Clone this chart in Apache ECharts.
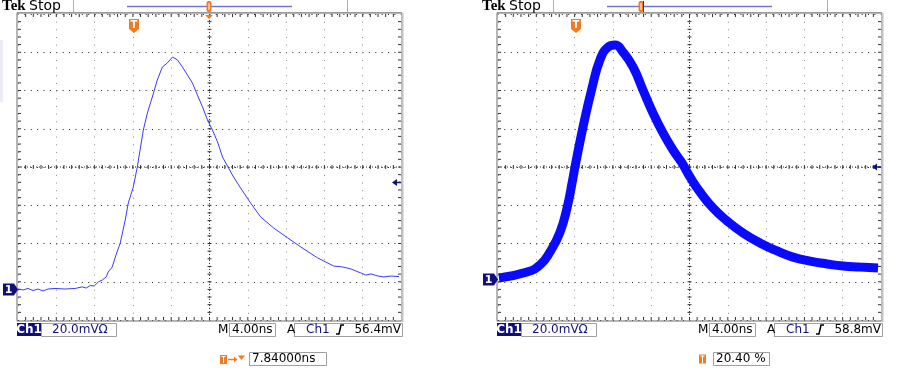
<!DOCTYPE html>
<html><head><meta charset="utf-8">
<script src="https://cdn.jsdelivr.net/npm/echarts@6/dist/echarts.min.js"></script>
<style>html,body{margin:0;padding:0;background:#fff}#c{width:923px;height:373px}</style>
</head><body><div id="c"></div>
<script>
// ---- data (time in ns from screen centre, voltage in mV from screen centre) ----
const timeLeft = [-20.00,-19.48,-18.95,-18.43,-17.91,-17.38,-16.86,-16.13,-15.08,-14.03,-13.30,-12.88,-12.46,-12.04,-11.62,-11.20,-10.79,-10.58,-10.16,-9.84,-9.32,-8.80,-8.48,-7.96,-7.54,-6.91,-6.49,-5.97,-5.45,-4.92,-4.40,-3.87,-3.35,-2.83,-2.30,-1.78,-1.26,-0.73,-0.21,0.31,0.84,1.36,1.99,2.51,3.25,4.29,5.34,6.70,8.17,9.53,11.31,12.15,12.98,13.93,14.76,15.29,15.81,16.33,16.86,17.59,18.22,18.95,19.79];
const voltLeft = [-63.8,-64.3,-63.5,-64.6,-63.8,-64.8,-63.8,-63.5,-63.8,-63.5,-62.7,-63.3,-62.0,-62.2,-60.1,-59.1,-57.5,-54.9,-52.3,-47.1,-39.7,-27.7,-18.8,-10.5,0.0,19.3,28.2,36.6,45.5,52.3,54.4,57.5,56.0,52.3,48.1,43.9,37.6,31.4,24.6,19.3,13.1,5.2,-0.5,-5.2,-11.0,-18.8,-26.1,-31.9,-37.1,-41.8,-47.6,-49.7,-51.8,-52.3,-53.3,-54.4,-55.4,-56.5,-55.9,-57.0,-57.5,-57.0,-57.3];
const timeRight = [-19.90,-16.97,-15.61,-14.57,-13.52,-12.79,-12.17,-11.96,-11.12,-10.18,-9.35,-8.51,-7.78,-6.95,-5.90,-4.86,-3.81,-2.77,-1.72,-0.78,0.05,1.10,2.45,3.92,5.59,7.36,9.14,10.81,12.59,14.36,16.03,17.81,19.69];
const voltRight = [-58.0,-54.9,-51.2,-44.4,-34.0,-21.4,-5.8,0.0,20.9,41.3,56.0,62.7,63.8,60.1,52.3,40.3,28.2,17.8,8.9,2.1,-5.2,-13.1,-21.4,-28.2,-34.5,-39.7,-43.9,-47.1,-49.2,-50.7,-51.8,-52.3,-52.8];
const timeTicks = [-20,-16,-12,-8,-4,0,4,8,12,16,20];
const voltTicks = [-80,-60,-40,-20,0,20,40,60,80];
const leftStatus = {scale:'20.0mV\u03a9', time:'4.00ns', trig:'56.4mV', readout:'7.84000ns'};
const rightStatus = {scale:'20.0mV\u03a9', time:'4.00ns', trig:'58.8mV', readout:'20.40 %'};

// ---- layout ----
const PL = [18, 498], PT = 14, PW = 383, PH = 306;
const NAVY = '#10107a', ORANGE = '#f47a20';

const chart = echarts.init(document.getElementById('c'), null, {renderer:'canvas'});

function axesFor(i){
  return {
    x: {type:'value', gridIndex:i, min:timeTicks[0], max:timeTicks[timeTicks.length-1], interval:4,
        axisLine:{show:false}, axisTick:{show:false}, axisLabel:{show:false},
        splitLine:{show:true, lineStyle:{color:'#8a8a8a', width:1, type:[1,6.66]}}},
    y: {type:'value', gridIndex:i, min:voltTicks[0], max:voltTicks[voltTicks.length-1], interval:20,
        axisLine:{show:false}, axisTick:{show:false}, axisLabel:{show:false},
        splitLine:{show:true, lineStyle:{color:'#222', width:1, type:[1,5.38]}}}
  };
}
const a0 = axesFor(0), a1 = axesFor(1);

const g = [];
function line(x1,y1,x2,y2,stroke,w,extra){ g.push(Object.assign({type:'line', silent:true, shape:{x1,y1,x2,y2}, style:{stroke, lineWidth:w||1}}, extra||{})); }
function text(t,x,y,font,fill,align,z){ g.push({type:'text', silent:true, z:z||10, style:{text:t, x, y, font, fill, textAlign:align||'left', textVerticalAlign:'middle'}}); }
function rect(x,y,w,h,fill,stroke,z){ g.push({type:'rect', silent:true, z:z||5, shape:{x,y,width:w,height:h}, style:{fill:fill||'none', stroke:stroke||null, lineWidth:1}}); }

function scope(k, st, trigX, trigInnerX, levelY, gndY, readoutIcon){
  const L = PL[k], R = L+PW, B = PT+PH, cx = L+PW/2, cy = PT+PH/2;
  const ox = L-18;
  // header
  text('Tek', ox+2, 6, 'bold 15px "Liberation Serif", serif', '#000');
  text('Stop', ox+29, 6, '14px "DejaVu Sans", sans-serif', '#000');
  line(ox+73.5,0,ox+73.5,12,'#b0b0b0',1);
  line(ox+347.5,0,ox+347.5,12,'#b0b0b0',1);
  line(ox+127,6.5,ox+292,6.5,'#7474d4',1.5);
  // trigger position marker on the record bar
  g.push({type:'rect', silent:true, z:12, shape:{x:trigX-2.5,y:1,width:5,height:11,r:2}, style:{fill:ORANGE}});
  line(trigX,3,trigX,10,'#fff',1,{z:13});
  if(k===1) line(trigX+2.5,1,trigX+2.5,12,'#333',1,{z:13});
  // frame
  rect(L-1,PT-1,PW+2,PH+2,null,'#6a6a6a',6);
  line(R+1.5,PT-1,R+1.5,B+2,'#c4c4c4',2,{z:6});
  line(L-1,PT-1.5,R+1,PT-1.5,'#9a9a9a',1,{z:6});
  // minor ticks on frame and centre lines
  const dx = PW/50, dy = PH/40;
  for(let i=1;i<50;i++){
    const x = L+i*dx;
    line(x,PT,x,PT+3,'#333',1,{z:6});
    line(x,B-3,x,B,'#333',1,{z:6});
    line(x,cy-2,x,cy+2,'#333',1,{z:6});
  }
  for(let j=1;j<40;j++){
    const y = PT+j*dy;
    line(L,y,L+3,y,'#333',1,{z:6});
    line(R-3,y,R,y,'#333',1,{z:6});
    line(cx-2,y,cx+2,y,'#333',1,{z:6});
  }
  line(L,cy,R,cy,'#333',1,{z:6, style:{stroke:'#333',lineWidth:1,lineDash:[1,2]}});
  line(cx,PT,cx,B,'#333',1,{z:6, style:{stroke:'#333',lineWidth:1,lineDash:[1,2]}});
  // orange down triangle under frame top (left scope only)
  if(k===0) g.push({type:'polygon', silent:true, z:12, shape:{points:[[trigX-4,PT+1],[trigX+4,PT+1],[trigX,PT+5]]}, style:{fill:ORANGE}});
  // inner trigger "T" marker
  g.push({type:'polygon', silent:true, z:12, shape:{points:[[trigInnerX-5,19],[trigInnerX+5,19],[trigInnerX+5,29],[trigInnerX,33],[trigInnerX-5,29]]}, style:{fill:ORANGE}});
  text('T', trigInnerX, 25.5, 'bold 10px "DejaVu Sans", sans-serif', '#fff', 'center', 13);
  // trigger level arrow on right
  g.push({type:'polygon', silent:true, z:12, shape:{points:[[R-9,levelY],[R-4,levelY-3.5],[R-4,levelY+3.5]]}, style:{fill:NAVY}});
  line(R-4,levelY,R,levelY,NAVY,1.5,{z:12});
  // ground marker
  g.push({type:'polygon', silent:true, z:12, shape:{points:[[L-15,gndY-6],[L-4,gndY-6],[L,gndY],[L-4,gndY+6],[L-15,gndY+6]]}, style:{fill:NAVY}});
  text('1', L-9.5, gndY+0.5, 'bold 11px "DejaVu Sans", sans-serif', '#fff', 'center', 13);
  // status row
  const sy = 329.5, sf = '12px "DejaVu Sans", sans-serif';
  rect(L-1,323,24,13,NAVY,null,8);
  text('Ch1', L+11, sy, 'bold 12px "DejaVu Sans", sans-serif', '#fff', 'center');
  rect(L+23.5,323.5,75,13,null,'#a0a0a0',8);
  text(st.scale, L+34, sy, sf, NAVY);
  text('M', ox+218, sy, sf, '#000');
  rect(ox+229.5,323.5,46,13,null,'#a0a0a0',8);
  text(st.time, ox+232, sy, sf, '#000');
  text('A', ox+287, sy, sf, '#000');
  line(ox+294.5,323,ox+294.5,337,'#777',1);
  rect(ox+294.5,323.5,108,13,null,'#a0a0a0',8);
  text('Ch1', ox+306, sy, sf, NAVY);
  g.push({type:'polyline', silent:true, z:10, shape:{points:[[ox+336,334],[ox+339,334],[ox+341,325],[ox+344,325]]}, style:{stroke:'#000', lineWidth:1.5, fill:'none'}});
  text(st.trig, ox+401, sy, sf, '#000', 'right');
  // readout row
  readoutIcon(ox);
}

scope(0, leftStatus, 209, 134, 182.5, 289.5, function(ox){
  rect(ox+220,355,7,9,ORANGE,null,9);
  line(ox+223.5,356.5,ox+223.5,363,'#fff',1,{z:10});
  line(ox+221.5,356.5,ox+225.5,356.5,'#fff',1,{z:10});
  line(ox+228,359.5,ox+236,359.5,ORANGE,1.5,{z:9});
  g.push({type:'polygon', silent:true, z:9, shape:{points:[[ox+234,356.5],[ox+237.5,359.5],[ox+234,362.5]]}, style:{fill:ORANGE}});
  g.push({type:'polygon', silent:true, z:9, shape:{points:[[ox+238,355.5],[ox+245,355.5],[ox+241.5,360]]}, style:{fill:ORANGE}});
  rect(ox+249.5,352.5,77,13,null,'#a0a0a0',8);
  text(leftStatus.readout, ox+252, 359, '12px "DejaVu Sans", sans-serif', '#000');
});
scope(1, rightStatus, 641, 576, 167, 279.5, function(ox){
  rect(699,354.5,7,9,ORANGE,null,9);
  line(702.5,356,702.5,363,'#fff',1,{z:10});
  line(700.5,356,704.5,356,'#fff',1,{z:10});
  rect(713.5,352.5,56,13,null,'#a0a0a0',8);
  text(rightStatus.readout, 716, 359, '12px "DejaVu Sans", sans-serif', '#000');
});
// faint strip at far left
rect(0,40,3,62,'#ececf6',null,1);

const option = {
  backgroundColor:'#fff',
  animation:false,
  grid:[{left:PL[0], top:PT, width:PW, height:PH}, {left:PL[1], top:PT, width:PW, height:PH}],
  xAxis:[a0.x, a1.x],
  yAxis:[a0.y, a1.y],
  series:[
    {type:'line', xAxisIndex:0, yAxisIndex:0, data:timeLeft.map((t,i)=>[t,voltLeft[i]]), showSymbol:false, z:20,
     lineStyle:{color:'#3a3aff', width:1}},
    {type:'line', xAxisIndex:1, yAxisIndex:1, data:timeRight.map((t,i)=>[t,voltRight[i]]), showSymbol:false, smooth:0.5, z:20,
     lineStyle:{color:'#0a0aff', width:9, cap:'butt', join:'round'}}
  ],
  graphic:{elements:g}
};
chart.setOption(option);
</script>
</body></html>
